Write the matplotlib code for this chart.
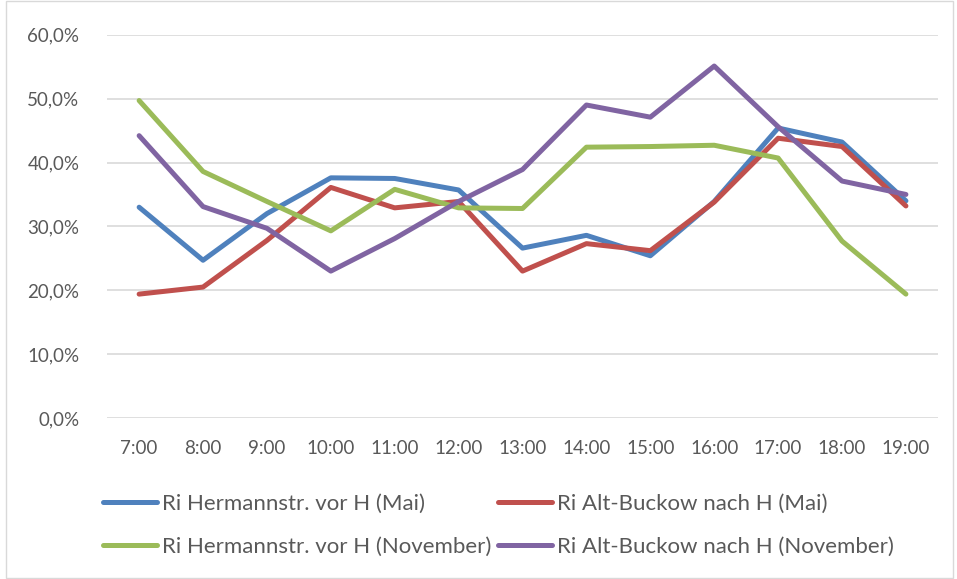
import matplotlib
matplotlib.use('Agg')
import matplotlib.pyplot as plt
from matplotlib.patches import Rectangle

plt.rcParams['font.family'] = ['Lato', 'DejaVu Sans']

hours = ['7:00', '8:00', '9:00', '10:00', '11:00', '12:00', '13:00',
         '14:00', '15:00', '16:00', '17:00', '18:00', '19:00']

herm_mai = [33.0, 24.7, 32.0, 37.6, 37.5, 35.7, 26.6, 28.6, 25.4, 33.9, 45.4, 43.2, 34.0]
buck_mai = [19.4, 20.5, 27.8, 36.1, 32.9, 33.9, 23.0, 27.3, 26.2, 33.8, 43.8, 42.5, 33.2]
herm_nov = [49.7, 38.6, 33.9, 29.3, 35.8, 32.9, 32.8, 42.4, 42.5, 42.7, 40.7, 27.7, 19.4]
buck_nov = [44.2, 33.1, 29.7, 23.0, 28.1, 33.9, 38.9, 49.0, 47.1, 55.1, 45.6, 37.1, 35.0]

labels = ['Ri Hermannstr. vor H (Mai)', 'Ri Alt-Buckow nach H (Mai)',
          'Ri Hermannstr. vor H (November)', 'Ri Alt-Buckow nach H (November)']
colors = ['#4F81BD', '#C0504D', '#9BBB59', '#8064A2']

fig = plt.figure(figsize=(9.57, 5.79), dpi=100)
ax = fig.add_axes([0.112, 0.278, 0.868, 0.662])

x = range(len(hours))
for vals, lab, col in zip([herm_mai, buck_mai, herm_nov, buck_nov], labels, colors):
    ax.plot(x, vals, color=col, lw=3.6, label=lab, solid_capstyle='round',
            solid_joinstyle='round')

ax.set_xlim(-0.5, len(hours) - 0.5)
ax.set_ylim(0, 60)
ax.set_yticks(range(0, 61, 10))
ax.set_yticklabels([f'{v},0%' for v in range(0, 61, 10)])
ax.set_xticks(list(x))
ax.set_xticklabels(hours)
ax.tick_params(length=0, labelsize=13.5, colors='#595959')
ax.tick_params(axis='y', pad=20)
ax.tick_params(axis='x', pad=16)
ax.grid(axis='y', color='#D9D9D9', lw=1.2)
ax.set_axisbelow(True)
for s in ax.spines.values():
    s.set_visible(False)

# order: row 1 Mai, row 2 November (legend fills column-wise)
h, l = ax.get_legend_handles_labels()
order = [0, 2, 1, 3]
fig.legend([h[i] for i in order], [l[i] for i in order], ncol=2,
           loc='upper left', bbox_to_anchor=(0.087, 0.182), frameon=False,
           fontsize=16, labelcolor='#595959', handlelength=2.4,
           handletextpad=0.25, columnspacing=0.3, labelspacing=1.05)

fig.patches.append(Rectangle((0.006, 0.002), 0.99, 0.996, transform=fig.transFigure,
                             fill=False, edgecolor='#D9D9D9', lw=1))

fig.savefig('out.png', dpi=100)
